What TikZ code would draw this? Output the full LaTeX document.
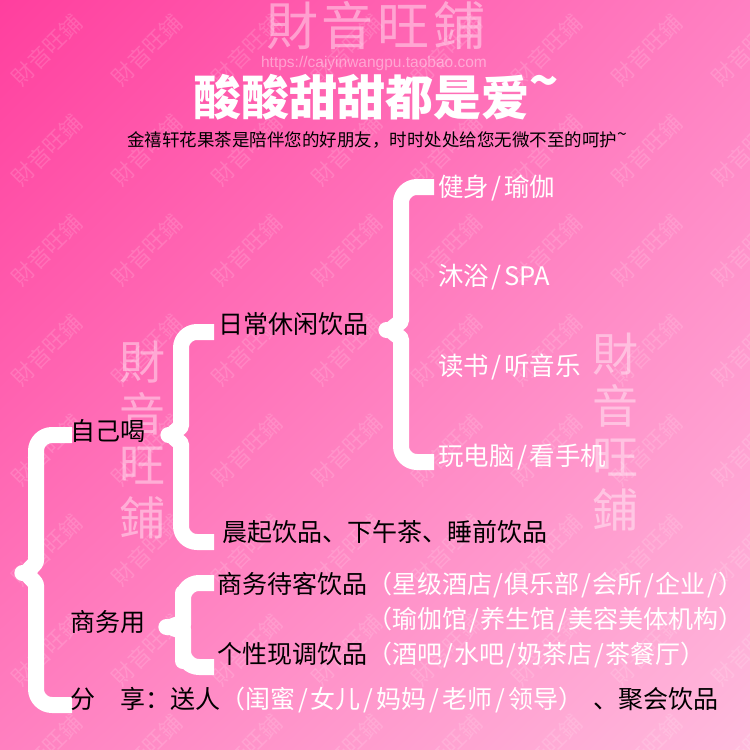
\documentclass[tikz,border=0pt]{standalone}
\usepackage{fontspec}
\usetikzlibrary{shadings}
\setmainfont{Noto Sans CJK SC}
\newfontfamily\cjk{Noto Sans CJK SC}
\newfontfamily\cjktc{Noto Sans CJK TC}
\newfontfamily\lsans{Liberation Sans}
\definecolor{bgtl}{HTML}{FF3F9E}
\definecolor{bgtr}{HTML}{FF80C2}
\definecolor{bgbl}{HTML}{FF80C0}
\definecolor{bgbr}{HTML}{FFBADD}
\newcommand\mybrace[7]{%
  \draw[bracestyle] (#1,#3) -- (#2,#3) -- (#2,#4-#7)
    .. controls (#2,#4-0.3*#7) and (#6+0.45*#2-0.45*#6,#4) .. (#6,#4)
    .. controls (#6+0.45*#2-0.45*#6,#4) and (#2,#4+0.3*#7) .. (#2,#4+#7)
    -- (#2,#5) -- (#1,#5);}
\newcommand\tld{\raisebox{0.35em}{\symbol{126}}}
\newcommand\sla{\kern1.5pt/\kern1.5pt}
\newcommand\slb{\kern3pt/\kern3pt}
\newcommand\slc{\kern2.5pt/\kern2.5pt}
\begin{document}
\begin{tikzpicture}[x=1pt,y=-1pt,
  bracestyle/.style={draw=white,line width=16pt,rounded corners=16pt,line join=round,line cap=butt},
  wm/.style={text=white,text opacity=0.15,font=\cjktc\fontsize{22}{22}\selectfont,inner sep=0pt},
  bigwm/.style={text=white,text opacity=0.42,font=\cjktc\fontsize{46}{46}\selectfont,inner sep=0pt},
  lbl/.style={inner sep=0pt,anchor=west,text height=0.86em,text depth=0.14em,font=\cjk\fontsize{25}{25}\selectfont,text=black},
  wlbl/.style={lbl,text=white,font=\cjk\fontsize{25.5}{25.5}\selectfont}]
\useasboundingbox (0,0) rectangle (750,750);
\shade[upper left=bgtl,upper right=bgtr,lower left=bgbl,lower right=bgbr] (0,0) rectangle (750,750);
% diagonal watermark pattern
\foreach \i in {-1,...,8}{\foreach \j in {-1,...,8}{
  \node[wm,rotate=45] (w\i\j) at ({47+100*\i},{50+100*\j}) {財音旺鋪};}}
% big watermarks
\node[bigwm,font=\cjktc\fontsize{52}{52}\selectfont] (topwm) at (376,26) {財\hspace{4pt}音\hspace{4pt}旺\hspace{4pt}鋪};
\node[text=white,text opacity=0.42,font=\lsans\fontsize{15.5}{15.5}\selectfont,inner sep=0pt] (url) at (374,63) {https://caiyinwangpu.taobao.com};
\foreach \c [count=\k] in {財,音,旺,鋪}{
  \node[bigwm] (lw\k) at (142,{310+52*\k}) {\c};
  \node[bigwm] (rw\k) at (615,{302+52*\k}) {\c};}
% title
\node[inner sep=0pt,text=white,font=\cjk\bfseries\fontsize{48}{48}\selectfont] (title) at (376,97) {酸酸甜甜都是爱\tld};
\node[inner sep=0pt,text=black,font=\cjk\fontsize{17.5}{17.5}\selectfont] (sub) at (377,140) {金禧轩花果茶是陪伴您的好朋友，时时处处给您无微不至的呵护\tld};
% braces
\mybrace{72}{36}{435}{573}{705}{13}{28}
\mybrace{214}{181}{332}{435}{542}{159}{25}
\mybrace{434}{401}{187}{330}{462}{377}{25}
\mybrace{214}{183}{583}{627}{667}{157}{18}
% labels
\node[lbl] (zj) at (70,437) {自己喝};
\node[lbl] (rc) at (218,330) {日常休闲饮品};
\node[lbl] (cq) at (222,538) {晨起饮品、下午茶、睡前饮品};
\node[lbl] (sw) at (217,590) {商务待客饮品\textcolor{white}{（星级酒店\sla 俱乐部\sla 会所\sla 企业\sla ）}};
\node[lbl,text=white,anchor=east] (sw2) at (sw.east |- 0,625) {（瑜伽馆\sla 养生馆\sla 美容美体机构）};
\node[lbl] (gx) at (217,660) {个性现调饮品\textcolor{white}{（酒吧\sla 水吧\sla 奶茶店\sla 茶餐厅）}};
\node[lbl] (swy) at (70,628) {商务用};
\node[lbl] (fx) at (70,705) {分　享：送人\textcolor{white}{（闺蜜\slb 女儿\slb 妈妈\slb 老师\slb 领导）}\hspace{10pt}、聚会饮品};
\node[wlbl] (r1) at (438,193) {健身\slc 瑜伽};
\node[wlbl] (r2) at (438,282) {沐浴\slc SPA};
\node[wlbl] (r3) at (438,372) {读书\slc 听音乐};
\node[wlbl] (r4) at (438,462) {玩电脑\slc 看手机};
\end{tikzpicture}
\end{document}
